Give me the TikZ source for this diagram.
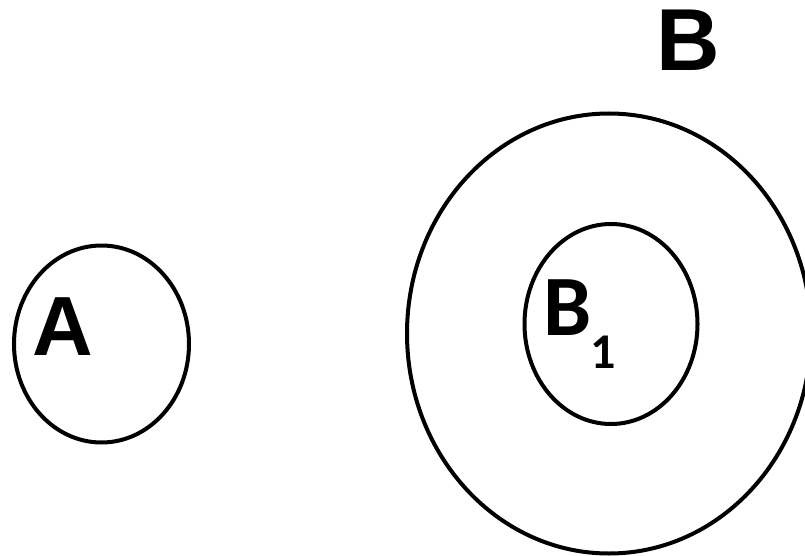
\documentclass[tikz,border=0pt]{standalone}
\usepackage{fontspec}
\setmainfont{Liberation Sans}
\newfontfamily\calib{Carlito}
\begin{document}
\begin{tikzpicture}[x=1pt,y=-1pt,
  setline/.style={line width=4pt,draw=black},
  lbl/.style={inner sep=0pt,font=\fontsize{84}{90}\selectfont\bfseries}]
\useasboundingbox (0,0) rectangle (805,556);
\draw[setline] (101.5,344) ellipse [x radius=87.5, y radius=98.5];
\draw[setline] (609,333.5) ellipse [x radius=202, y radius=220];
\draw[setline] (611,324) ellipse [x radius=86.5, y radius=100];
\node[lbl] (a) at (63,327) {A};
\node[lbl,font=\fontsize{88}{92}\selectfont\bfseries] (b) at (688.5,40) {B};
\node[inner sep=0pt,font=\calib\fontsize{86}{90}\selectfont\bfseries] (b1) at (567.5,308) {B};
\node[inner sep=0pt,font=\calib\fontsize{50}{54}\selectfont\bfseries] (b1sub) at (603.5,352.5) {1};
\end{tikzpicture}
\end{document}
